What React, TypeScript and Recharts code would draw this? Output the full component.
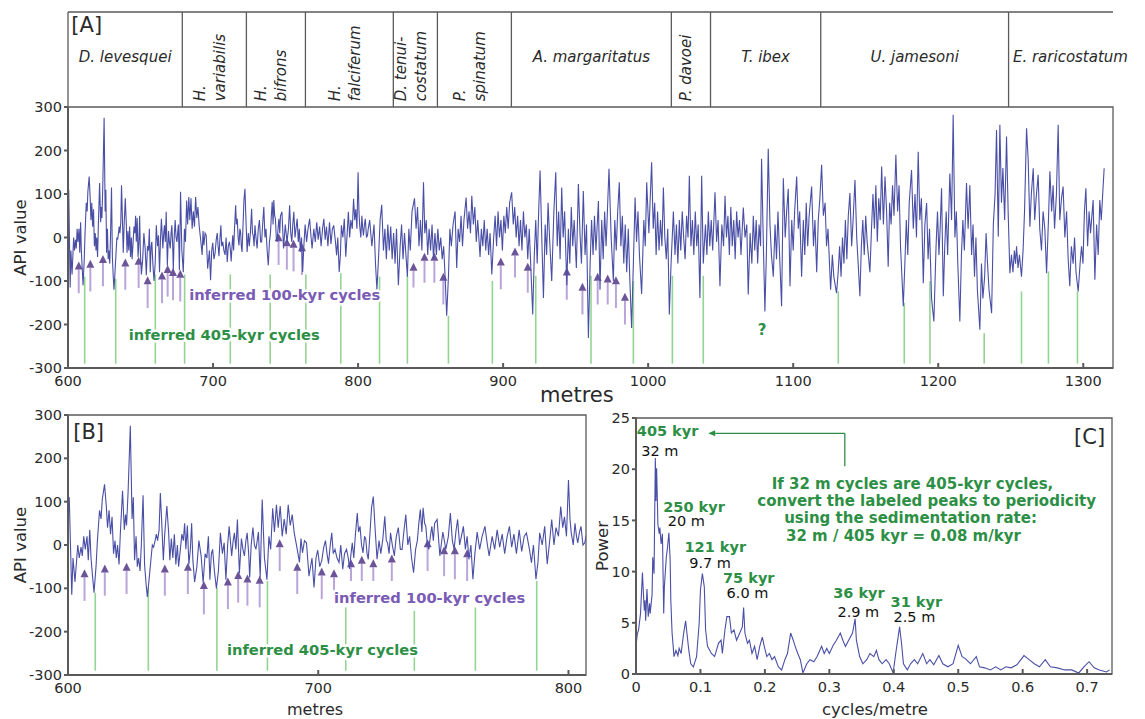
import React from 'react';
import {
  ComposedChart,
  Line,
  XAxis,
  YAxis,
  ReferenceLine,
  ReferenceArea,
  ReferenceDot
} from 'recharts';

const FONT = '"DejaVu Sans", sans-serif';
const SERIES = '#4a4fa6';
const GREEN_LINE = '#93d493';
const GREEN_TEXT = '#2d8f45';
const PURPLE_TEXT = '#7a5bb5';
const ARROW_SHAFT = '#baa5da';
const ARROW_HEAD = '#6c5499';
const AXIS = '#5a5a5a';
const INK = '#2a2a2a';

// axis ranges
const A_MAX = 1320.5;
const B_MAX = 807;
const C_MAX = 0.7386;

const metreTicksA = [600, 700, 800, 900, 1000, 1100, 1200, 1300];
const metreTicksB = [600, 700, 800];
const apiTicks = [-300, -200, -100, 0, 100, 200, 300];
const freqTicks = [0, 0.1, 0.2, 0.3, 0.4, 0.5, 0.6, 0.7];
const powerTicks = [0, 5, 10, 15, 20, 25];

// biozones (header of panel A)
const zoneNames = [
  ['D. levesquei'],
  ['H.', 'variabilis'],
  ['H.', 'bifrons'],
  ['H.', 'falciferum'],
  ['D. tenui-', 'costatum'],
  ['P.', 'spinatum'],
  ['A. margaritatus'],
  ['P. davoei'],
  ['T. ibex'],
  ['U. jamesoni'],
  ['E. raricostatum']
];
const zoneBounds = [600, 678.8, 723, 763.7, 824.3, 854.7, 905.7, 1016, 1043, 1119, 1248.5, A_MAX];
const zoneRotated = [false, true, true, true, true, true, false, true, false, false, false];

// API log, metres vs value. 600-807 m, the rest from panel A
const earlyTrace: [number, number][] = [
  [600, 55], [600.5, 110], [601.5, -115], [602, -30], [602.8, -85], [603.9, 0], [604.5, -30], [605.2, -5],
  [605.7, -25], [606.3, 20], [606.9, -10], [607.6, 20], [608.1, -35], [608.7, 35], [609.2, -30], [609.7, -65],
  [610.4, -110], [611.2, -50], [611.7, 5], [612.6, 80], [613.2, 60], [613.7, 105], [614.6, 140], [615.3, 90],
  [615.8, 40], [616.4, 80], [617, 25], [617.6, 65], [618.2, -20], [618.8, 10], [619.3, -30], [619.8, 0],
  [620.4, -45], [620.9, 25], [621.8, 125], [622.5, 35], [623, 70], [623.4, 45], [624, 120], [624.9, 275],
  [625.6, 60], [626.1, 110], [626.6, -35], [627.2, 20], [627.7, -50], [628.2, -30], [628.8, -60], [629.3, 0],
  [630, 115], [630.6, -45], [631.2, -90], [631.7, -120], [632.4, -80], [633.2, -30], [633.7, 0], [634.2, -5],
  [634.8, 10], [635.3, 25], [635.8, 10], [636.4, 35], [636.9, 120], [637.4, 60], [638.1, -35], [638.6, 20],
  [639.5, 90], [640.2, 30], [640.7, -35], [641.3, 15], [641.9, -30], [642.5, 25], [643.1, -45], [643.7, 0],
  [644.2, -50], [644.9, -10], [645.5, 25], [646.1, 10], [646.6, 50], [647.1, -10], [647.7, 45], [648.3, -45],
  [648.9, -10], [649.4, 50], [649.9, -35], [650.6, -85], [651.5, -50], [652.3, 10], [653.2, -25], [654, -87],
  [654.8, -20], [655.5, -30], [656.1, 20], [656.7, -80], [657.3, -20], [657.8, -10], [658.5, -60], [659.3, -100],
  [660.1, -60], [660.9, 28], [661.7, -20], [662.4, 5], [663.1, -80], [663.8, 0], [664.4, 43], [665.4, -25],
  [666, 10], [666.5, 28], [667.1, -10], [667.7, 59], [668.5, -65], [669.3, 15], [669.9, -10], [670.5, -25],
  [671.1, 10], [671.6, 28], [672.2, -20], [672.6, -75], [673.2, 0], [673.9, 40], [674.5, 0], [675.1, -10],
  [676.1, 30], [676.8, -75], [677.6, 105], [678.5, -30], [679.5, -80], [680.3, 20], [681, -10], [681.8, 85],
  [682.5, 30], [683.3, 93], [684, 40], [684.8, 90], [685.6, 20], [686.4, 60], [687.2, 25], [688, 93],
  [688.8, 45], [689.6, 70], [690.4, 28], [691.4, -3], [692.5, -40], [693.1, 15], [693.7, -18], [694.5, 10],
  [695.3, 5], [696.3, -72], [697.5, -30], [698.3, -98], [699.1, -30], [699.8, -12], [700.6, -50], [701.4, -36],
  [702.2, -5], [702.9, 10], [703.5, -20], [704.1, -43], [704.8, 0], [705.4, 28], [706, -20], [706.7, -10],
  [707.5, -30], [708.3, -40], [709, 0], [709.8, -56], [710.5, -20], [711.3, -10], [712, -30], [712.5, -55],
  [713.1, -20], [713.6, 5], [714.2, -30], [714.8, 20], [715.6, 74], [716.1, 30], [716.7, 43], [717.3, 0],
  [717.9, -18], [718.5, 20], [719, 13], [719.5, -20], [720, -33], [720.7, 30], [721.3, 86], [722, 112],
  [722.7, 40], [723.5, -33], [724.3, 10], [725, -20], [725.8, 13], [726.6, 66], [727.2, 10], [727.7, 5],
  [728.3, -20], [728.9, 28], [729.6, 0], [730.4, -25], [731.2, 20], [732, 40], [732.8, -10], [733.5, -10],
  [734.2, 30], [735, 70], [735.8, 0], [736.5, 20], [737.3, -30], [738.1, -64], [738.9, -10], [739.6, 10],
  [740.2, 50], [740.8, 82], [741.4, 30], [741.9, 86], [742.5, 50], [743, 43], [743.6, 0], [744.2, -10],
  [744.8, 20], [745.4, 43], [746, 10], [746.5, 50], [747.5, 59], [748.6, -25], [749.8, 30], [751, -10],
  [752, 20], [752.8, 74], [753.6, 10], [754.3, -10], [755, 30], [755.7, 59], [756.5, 0], [757.2, 20],
  [758, 43], [758.8, -10], [759.5, 20], [760.2, -33], [761, 0], [761.8, -79], [762.6, -20], [763.5, 30],
  [764.5, -10], [765.5, 20], [766.6, 43], [767.6, 0], [768.3, -25], [769.5, 20], [770.5, -10], [771.5, 35],
  [772.5, -5], [773.5, 25], [774.5, -20], [775.5, 20], [776.4, 43], [777.3, -5], [778.2, 25], [779.2, -20],
  [780.3, 35], [781.3, -15], [782.3, 20], [783.2, 28], [784.4, -10], [785.2, -41], [786, 0], [787, -79],
  [787.8, -40], [788.5, 28], [789.5, 0], [790.5, 43], [791.5, -44], [792.5, 10], [793.3, 59], [794.2, 0],
  [795, 40], [796, 20], [796.9, 89], [797.7, 40], [798.4, 65], [799.2, 20], [800, 150], [800.6, 60],
  [801.1, 28], [801.9, 0], [802.6, 50], [803.2, 20], [803.7, 5], [804.4, 30], [805, 43], [805.8, 0],
  [806.5, 5], [807, 20]
];

const lateTrace: [number, number][] = [
  [808, 40], [809.5, -20], [811, 30], [812, -60], [813, -120], [814.2, -40], [815.2, 40], [816.3, 75],
  [817.5, -30], [818.5, 20], [819.5, -50], [820.5, 30], [821.5, -30], [822.5, 25], [823.5, -50], [824.5, 10],
  [825.5, -60], [826.5, 20], [827.8, -110], [829, -20], [830, 30], [831, -50], [832, 10], [833, -40],
  [834, -90], [835, 20], [836, -30], [837.2, 60], [838.9, 90], [840, 20], [841, 70], [842, -20],
  [843, 40], [844, -30], [845.1, 127], [846, 10], [847, 40], [848, -40], [849, 20], [850, -30],
  [851, 30], [852, -50], [853, 10], [854, -40], [855, 20], [856, -30], [857, 0], [858, -50],
  [859, -20], [860, -90], [861.1, -180], [862.3, -90], [863.3, 20], [864.3, -20], [865.5, 30], [866.9, 60],
  [868, -70], [869, 20], [870, -10], [871, 50], [872, -20], [873, 40], [874.5, 92], [875.5, 20],
  [876.5, 60], [877.5, 10], [878.4, 96], [879.5, 30], [880.5, 70], [881.5, -10], [882.5, 40], [884.1, -45],
  [885, 20], [886, -20], [887, 40], [888, -30], [889, 20], [890, -40], [891, 10], [892.2, -85],
  [893.5, 0], [894.5, 50], [895.5, -20], [896.5, 60], [897.5, 0], [898.5, 40], [899.5, -30], [900.5, 50],
  [901.5, 10], [902.5, 70], [903.5, 20], [904.5, 80], [905.9, 104], [907, 30], [908, 70], [909, 0],
  [910, 50], [911, -20], [912, 40], [913, -30], [914, 60], [915, 0], [916, 30], [917, -50],
  [918, 20], [919, -60], [920.4, -177], [921.5, -40], [922.5, 40], [923.5, -60], [924.5, 60], [925.5, 154],
  [926.5, 20], [927.8, -139], [929, 30], [930, -40], [931, 80], [932, 0], [933.5, -100], [935, 60],
  [936.3, 150], [937.3, -20], [938.3, 60], [939.3, -50], [940.4, 115], [941.4, 0], [942.4, 60], [943.9, -110],
  [945, 20], [946, -60], [947, 70], [948, -20], [949, 40], [950.5, -70], [951.9, 123], [953, 10],
  [954, -60], [955.3, 107], [956.5, -40], [957.5, 30], [958.8, -231], [960, -60], [961, 40], [962, -40],
  [963, 50], [964, -30], [965.7, 84], [966.8, -120], [968, 40], [969, -50], [970, 60], [971, -20],
  [973, 158], [974.5, 0], [976, -100], [977, 40], [978, -30], [979, 60], [980.1, 127], [981.2, -20],
  [982.2, 50], [983.2, -60], [984.2, 30], [985.2, -80], [986.3, 20], [987.3, -90], [988.6, -208], [989.8, -60],
  [991, 92], [992, -10], [993, 60], [994, -40], [995.5, -130], [997, 40], [998, -20], [999, 127],
  [1000.5, 10], [1002.4, 173], [1003.5, 20], [1004.5, 80], [1005.5, -40], [1006.5, 60], [1007.5, -30], [1008.5, 40],
  [1009.5, -20], [1010.5, 115], [1011.5, 0], [1012.5, -50], [1013.5, 20], [1014.6, -177], [1015.8, -60], [1017.4, 60],
  [1018.5, -40], [1019.5, 30], [1020.5, -60], [1021.5, 40], [1022.5, -30], [1023.5, 60], [1024.5, 0], [1025.5, -50],
  [1026.5, 50], [1027.5, 0], [1028.4, 142], [1029.5, -20], [1030.5, 40], [1031.5, -40], [1032.5, 60], [1033.5, -20],
  [1034.5, 30], [1035.7, -139], [1036.9, 142], [1038, -60], [1039.5, 30], [1040.5, -40], [1041.5, 60], [1042.5, -20],
  [1043.5, 40], [1044.5, -30], [1046.1, 104], [1047.2, -10], [1048.2, 40], [1049.5, -112], [1050.8, 30], [1052, -20],
  [1053, 96], [1054, 0], [1055, 50], [1056, -40], [1057, 70], [1058, -20], [1059, 40], [1060, -50],
  [1061, 60], [1062, 0], [1063, 40], [1064, -40], [1065.6, 69], [1066.8, 0], [1068, 30], [1069, -131],
  [1070.3, 10], [1071.5, -60], [1072.5, 50], [1073.5, -30], [1074.5, 40], [1075.5, -60], [1076.5, 30], [1077.5, -20],
  [1078.2, 181], [1079.2, 20], [1080.5, -170], [1081.5, -40], [1082.8, 204], [1084, 30], [1085, -40], [1086.3, -90],
  [1087.5, 30], [1088.5, -50], [1089.5, 60], [1090.5, -30], [1092, -158], [1093.2, 136], [1094.5, 0], [1095.5, 60],
  [1096.6, 112], [1097.8, -112], [1099, 40], [1100, -30], [1101, 60], [1102.4, 140], [1103.5, 20], [1104.5, 60],
  [1105.8, -90], [1107, 40], [1108, -40], [1109, 80], [1110, -20], [1111, 50], [1112.7, 117], [1114, -20],
  [1115, 40], [1116.2, -80], [1117.3, 40], [1118.4, 90], [1119.6, 167], [1120.8, 50], [1122, 80], [1123, -20],
  [1124, 20], [1125.8, -120], [1127, -40], [1128, -90], [1129.9, -128], [1131, -80], [1132, -20], [1133, -90],
  [1134, 0], [1135, -60], [1136, 40], [1137, -50], [1138, 50], [1139.1, 102], [1140.3, -20], [1141.3, 40],
  [1142.6, 132], [1143.8, 0], [1144.8, -60], [1146, -135], [1147, -20], [1148, 40], [1149, -40], [1150, 50],
  [1151, -10], [1152.9, -80], [1154, 20], [1155, 100], [1156, 20], [1157, 120], [1158, -10], [1159, 90],
  [1160, 40], [1161, 163], [1162.2, 30], [1163.3, 140], [1164.4, 60], [1165.5, -67], [1166.5, 80], [1167.5, 30],
  [1168.5, 120], [1169.5, 50], [1170.8, 190], [1172, 60], [1173, 120], [1174, -20], [1175.9, -158], [1177, -60],
  [1178, 40], [1179, -40], [1180, 80], [1181.6, 155], [1182.8, 20], [1184, 100], [1185, 0], [1186.2, 197],
  [1187.3, 40], [1188.4, 90], [1189.7, -105], [1190.8, 30], [1192, 79], [1193, -50], [1194, 20], [1195.4, -140],
  [1197, -193], [1198.5, -20], [1199.5, 60], [1200.5, -40], [1201.3, 20], [1202.3, 113], [1203.5, -135], [1204.5, -20],
  [1205.5, 60], [1206.5, -40], [1208, 147], [1209.2, 40], [1210.3, 282], [1211.5, 0], [1212.5, 60], [1213.5, -60],
  [1214.9, -193], [1216, -40], [1217, 40], [1218, -30], [1219.5, 125], [1220.6, 20], [1221.8, 120], [1223, -40],
  [1224, 30], [1225, -90], [1226, 0], [1227, -120], [1228.7, -212], [1229.8, -60], [1230.8, -140], [1232, -90],
  [1233, 10], [1234, -60], [1235, -120], [1236.8, -174], [1238, 30], [1239.2, 100], [1240.2, 247], [1241.4, 2],
  [1242.5, 259], [1243.6, 80], [1244.6, 160], [1245.8, 40], [1247.1, 232], [1248.2, 60], [1249.4, -82], [1250.5, -40],
  [1251.5, -80], [1252.5, -30], [1253.3, -60], [1254, -20], [1255, -70], [1256, -40], [1257.4, -90], [1258.5, -30],
  [1259.5, 60], [1260.9, 251], [1262, 180], [1263.2, 25], [1264.2, 100], [1265.5, 159], [1266.5, 40], [1267.5, 90],
  [1268.9, 144], [1270, 20], [1271.2, -30], [1272.3, 60], [1273.5, 20], [1274.7, -82], [1276, 40], [1277, 152],
  [1278.2, 60], [1279.2, 120], [1280.2, 20], [1281.5, 100], [1282.7, 259], [1283.8, 40], [1285, 90], [1286.1, 117],
  [1287.3, 0], [1288.5, 60], [1289.6, -50], [1290.7, -112], [1291.8, -20], [1293, -60], [1294, 0], [1295, -80],
  [1296.5, -124], [1297.8, -60], [1298.8, -20], [1299.8, -60], [1300.8, 60], [1301.8, 113], [1303, -20], [1304, 60],
  [1305, 10], [1306.8, 86], [1308, -97], [1309.2, 30], [1310.3, -40], [1311.4, 86], [1312.4, 40], [1313.4, 100],
  [1314.4, 159]
];

// inferred 405-kyr cycles: [metres, top of line]
const cycles405A: [number, number][] = [
  [611.5, -90], [632.9, -95], [660.2, -85], [680.4, -85], [711.9, -85], [739.4, -85], [764, -85], [788.1, -82],
  [814.8, -90], [834, -88], [862.3, -180], [892.6, -100], [922.5, -88], [960.6, -88], [989.8, -100], [1016.7, -88],
  [1038, -88], [1131.1, -124], [1176.6, -150], [1194.3, -100], [1231.7, -220], [1257.4, -124], [1276, -78], [1296, -124]
];
const cycles405B: [number, number][] = [
  [610.9, -110], [632.1, -98], [659.5, -98], [679.7, -83], [711, -144], [738.4, -152], [762.8, -144], [787.3, -83]
];
// inferred 100-kyr cycles: [metres, arrow base, arrow tip]
const cycles100A: [number, number, number][] = [
  [607.4, -128, -55], [615.4, -124, -51], [624.1, -112, -40], [639.5, -120, -48], [648.7, -116, -44],
  [654.9, -162, -89], [664.8, -151, -78], [668.7, -136, -63], [672.4, -144, -70], [677.4, -147, -74],
  [745.2, -63, 10], [750.9, -74, -2], [755.5, -78, -5], [761.3, -86, -13], [838.2, -115, -58],
  [845.8, -104, -35], [852.6, -104, -35], [858.8, -154, -81], [898.4, -119, -46], [908.2, -92, -23],
  [917, -127, -58], [943.9, -143, -69], [954.7, -177, -104], [965.2, -154, -81], [972.1, -154, -85],
  [977.8, -162, -89], [984, -200, -127]
];
const cycles100B: [number, number, number][] = [
  [606.6, -129, -56], [614.7, -117, -45], [623.4, -113, -41], [638.7, -117, -45], [647.9, -113, -41],
  [654.3, -160, -83], [663.9, -148, -75], [668, -133, -60], [671.7, -140, -68], [676.6, -144, -71],
  [684.6, -60, 13], [691.6, -113, -41], [701.4, -125, -52], [706.3, -129, -56], [713.1, -83, -33],
  [717.4, -83, -25], [722, -83, -33], [729.4, -83, -22], [743.7, -60, 13], [750.3, -72, -3],
  [754.6, -79, -3], [759.5, -83, -10]
];
const CYCLE_FLOOR = -290;

// power spectrum: [cycles/metre, power]
const spectrum: [number, number][] = [
  [0, 2.7], [0.002, 3.9], [0.004, 4.3], [0.007, 5.9], [0.01, 9.9], [0.012, 7.2], [0.013, 6.2], [0.014, 7.2],
  [0.015, 5.2], [0.017, 8.3], [0.019, 5.6], [0.021, 6.9], [0.022, 5.9], [0.025, 7.8], [0.026, 11.4], [0.028, 9.8],
  [0.03, 21.1], [0.031, 16.9], [0.032, 20.1], [0.034, 14.6], [0.036, 13.7], [0.037, 14.3], [0.039, 12.7], [0.041, 13.7],
  [0.043, 5.9], [0.044, 8.5], [0.047, 11.4], [0.049, 12.4], [0.051, 13.8], [0.053, 11.1], [0.054, 7.2], [0.056, 4],
  [0.059, 1.7], [0.062, 2.3], [0.065, 1.8], [0.067, 2.5], [0.07, 2], [0.074, 4], [0.077, 5.2], [0.079, 4],
  [0.082, 2.3], [0.085, 1], [0.089, 0.7], [0.094, 1.7], [0.098, 4.9], [0.1, 8.2], [0.103, 9.8], [0.106, 8.5],
  [0.108, 4.3], [0.111, 2.7], [0.117, 2], [0.122, 1.7], [0.128, 3], [0.132, 3.3], [0.134, 2], [0.138, 4.3],
  [0.141, 5.6], [0.145, 5.6], [0.148, 4], [0.152, 4.3], [0.156, 3.3], [0.161, 4], [0.165, 4.6], [0.167, 6.5],
  [0.169, 4], [0.173, 3], [0.176, 3.3], [0.18, 2], [0.184, 2.7], [0.188, 1.4], [0.192, 2.7], [0.196, 3.6],
  [0.199, 2.7], [0.203, 1.7], [0.207, 2], [0.211, 1.4], [0.215, 1.7], [0.221, 0.7], [0.226, 0.4], [0.231, 1.4],
  [0.235, 2], [0.24, 4], [0.244, 3.3], [0.247, 2.7], [0.251, 2], [0.255, 1.4], [0.259, 0.1], [0.265, 1],
  [0.27, 1.4], [0.276, 1.2], [0.281, 1.7], [0.288, 2.7], [0.292, 2], [0.296, 2.5], [0.3, 2], [0.306, 2.8],
  [0.311, 3.3], [0.317, 4], [0.321, 3.3], [0.325, 2.7], [0.33, 3.3], [0.336, 4], [0.34, 5.4], [0.342, 3.3],
  [0.347, 1.7], [0.352, 1], [0.358, 1.4], [0.363, 2], [0.369, 1.7], [0.373, 2.3], [0.377, 1.4], [0.382, 1],
  [0.388, 1.4], [0.393, 1], [0.399, 0.1], [0.403, 2], [0.406, 3.3], [0.409, 4.6], [0.412, 3], [0.415, 1],
  [0.421, 0.4], [0.426, 1], [0.432, 1.4], [0.437, 1], [0.445, 2], [0.451, 1], [0.456, 1.4], [0.462, 0.9],
  [0.47, 1.8], [0.476, 1], [0.484, 0.7], [0.492, 1], [0.5, 2.8], [0.506, 1.7], [0.511, 1.5], [0.519, 1],
  [0.528, 1.7], [0.533, 0.7], [0.541, 0.6], [0.55, 0.4], [0.558, 0.7], [0.566, 0.4], [0.574, 0.7], [0.582, 0.6],
  [0.591, 0.9], [0.602, 1.8], [0.61, 1.4], [0.618, 1], [0.626, 0.7], [0.635, 1.4], [0.643, 0.7], [0.654, 0.6],
  [0.665, 0.4], [0.676, 0.4], [0.687, 0.1], [0.695, 0.7], [0.703, 1.2], [0.711, 0.6], [0.719, 0.4], [0.73, 0.2],
  [0.735, 0.4]
];

// peak labels in panel C
const peakKyr = ['405 kyr', '250 kyr', '121 kyr', '75 kyr', '36 kyr', '31 kyr'];
const peakMetres = ['32 m', '20 m', '9.7 m', '6.0 m', '2.9 m', '2.5 m'];
const kyrLabelAt: [number, number][] = [[0.049, 23.7], [0.09, 16.3], [0.123, 12.4], [0.175, 9.4], [0.346, 7.9], [0.435, 7.0]];
const metreLabelAt: [number, number][] = [[0.037, 21.8], [0.078, 14.9], [0.115, 10.8], [0.173, 7.9], [0.345, 6.06], [0.432, 5.6]];
const noteLines = [
  'If 32 m cycles are 405-kyr cycles,',
  'convert the labeled peaks to periodicity',
  'using the sedimentation rate:',
  '32 m / 405 kyr = 0.08 m/kyr'
];
const noteLineAt: [number, number][] = [[0.429, 18.6], [0.451, 16.9], [0.426, 15.2], [0.415, 13.5]];

const apiData = [...earlyTrace, ...lateTrace].map(([m, api]) => ({ m, api }));
const spectrumData = spectrum.map(([f, power]) => ({ f, power }));

const tickStyle = { fill: INK, fontSize: 14.5, fontFamily: FONT };

const arrowShape = (p: any) => {
  const { x1, y1, x2, y2 } = p;
  const dx = x2 - x1;
  const dy = y2 - y1;
  const len = Math.hypot(dx, dy) || 1;
  const ux = dx / len;
  const uy = dy / len;
  const size = 8;
  const bx = x2 - ux * size;
  const by = y2 - uy * size;
  const px = -uy * size * 0.5;
  const py = ux * size * 0.5;
  return (
    <g>
      <line x1={x1} y1={y1} x2={bx} y2={by} stroke={p.stroke} strokeWidth={2} />
      <polygon points={`${x2},${y2} ${bx + px},${by + py} ${bx - px},${by - py}`} fill={p.fill} />
    </g>
  );
};

interface NoteProps {
  text: string;
  color: string;
  size: number;
  bold?: boolean;
  italic?: boolean;
  anchor?: 'start' | 'middle' | 'end';
  halo?: boolean;
}

const noteShape = (n: NoteProps) => (p: any) => (
  <text
    x={p.cx}
    y={p.cy}
    fill={n.color}
    fontSize={n.size}
    fontWeight={n.bold ? 700 : 400}
    fontStyle={n.italic ? 'italic' : 'normal'}
    fontFamily={FONT}
    textAnchor={n.anchor ?? 'middle'}
    dominantBaseline="central"
    stroke={n.halo ? '#ffffff' : 'none'}
    strokeWidth={n.halo ? 5 : 0}
    strokeLinejoin="round"
    paintOrder="stroke"
  >
    {n.text}
  </text>
);

const rotatedLabelShape = (lines: string[]) => (p: any) => {
  const gap = 20;
  const first = p.cx - 5 - (lines.length - 1) * gap / 2 + 5.5;
  return (
    <g>
      {lines.map((t, i) => {
        const x = first + i * gap;
        return (
          <text
            key={t}
            x={x}
            y={p.cy}
            transform={`rotate(-90 ${x} ${p.cy})`}
            fontSize={15}
            fontStyle="italic"
            fontFamily={FONT}
            fill={INK}
            textAnchor="start"
          >
            {t}
          </text>
        );
      })}
    </g>
  );
};

const yTitle = (text: string, dx: number) => (props: any) => {
  const vb = props.viewBox || { x: 0, y: 0, width: 0, height: 0 };
  const x = vb.x + dx;
  const y = vb.y + vb.height / 2;
  return (
    <text
      x={x}
      y={y}
      transform={`rotate(-90 ${x} ${y})`}
      textAnchor="middle"
      dominantBaseline="central"
      fontSize={16.5}
      fontFamily={FONT}
      fill={INK}
    >
      {text}
    </text>
  );
};

const xTitle = (text: string, share: number, dy: number, size: number) => (props: any) => {
  const vb = props.viewBox || { x: 0, y: 0, width: 0, height: 0 };
  return (
    <text
      x={vb.x + vb.width * share}
      y={vb.y + dy}
      textAnchor="middle"
      fontSize={size}
      fontFamily={FONT}
      fill={INK}
    >
      {text}
    </text>
  );
};

const Header: React.FC = () => (
  <ComposedChart width={1145} height={112} margin={{ top: 12, right: 32, bottom: 5, left: 68 }} data={[]}>
    <XAxis type="number" dataKey="m" domain={[600, A_MAX]} allowDataOverflow hide />
    <YAxis type="number" domain={[0, 1]} allowDataOverflow hide />
    <ReferenceLine segment={[{ x: 600, y: 1 }, { x: A_MAX, y: 1 }]} stroke={AXIS} strokeWidth={1.5} />
    {zoneBounds.slice(0, -1).map((b) => (
      <ReferenceLine key={`b${b}`} segment={[{ x: b, y: 0 }, { x: b, y: 1 }]} stroke={AXIS} strokeWidth={1.3} />
    ))}
    {zoneNames.map((lines, i) => {
      const last = i === zoneNames.length - 1;
      const x = last ? zoneBounds[i] + 3 : (zoneBounds[i] + zoneBounds[i + 1]) / 2;
      return (
        <ReferenceDot
          key={`z${i}`}
          x={x}
          y={zoneRotated[i] ? 0.06 : 0.53}
          r={0}
          ifOverflow="visible"
          shape={
            zoneRotated[i]
              ? rotatedLabelShape(lines)
              : noteShape({ text: lines[0], color: INK, size: 15, italic: true, anchor: last ? 'start' : 'middle' })
          }
        />
      );
    })}
    <ReferenceDot x={602.3} y={0.86} r={0} ifOverflow="visible" shape={noteShape({ text: '[A]', color: INK, size: 21, anchor: 'start' })} />
  </ComposedChart>
);

const PanelA: React.FC = () => (
  <ComposedChart width={1145} height={410} data={apiData} margin={{ top: 107, right: 32, bottom: 2, left: 8 }}>
    <XAxis
      type="number"
      dataKey="m"
      domain={[600, A_MAX]}
      allowDataOverflow
      ticks={metreTicksA}
      height={40}
      tickSize={-5}
      tickMargin={13}
      stroke={AXIS}
      strokeWidth={2}
      tick={tickStyle}
      label={{ content: xTitle('metres', 0.487, 34, 21) }}
    />
    <YAxis
      type="number"
      domain={[-300, 300]}
      allowDataOverflow
      ticks={apiTicks}
      width={60}
      tickSize={4}
      tickMargin={2}
      stroke={AXIS}
      strokeWidth={2}
      tick={tickStyle}
      label={{ content: yTitle('API value', 12) }}
    />
    <ReferenceArea x1={600} x2={A_MAX} y1={-300} y2={300} fill="none" stroke={AXIS} strokeWidth={1.3} />
    {cycles405A.map(([m, top]) => (
      <ReferenceLine key={`g${m}`} segment={[{ x: m, y: top }, { x: m, y: CYCLE_FLOOR }]} stroke={GREEN_LINE} strokeWidth={1.6} />
    ))}
    {cycles100A.map(([m, base, tip]) => (
      <ReferenceLine
        key={`p${m}`}
        segment={[{ x: m, y: base }, { x: m, y: tip }]}
        stroke={ARROW_SHAFT}
        fill={ARROW_HEAD}
        shape={arrowShape}
      />
    ))}
    <Line type="linear" dataKey="api" stroke={SERIES} strokeWidth={1.1} dot={false} isAnimationActive={false} />
    <ReferenceDot x={749.4} y={-132} r={0} shape={noteShape({ text: 'inferred 100-kyr cycles', color: PURPLE_TEXT, size: 14.7, bold: true, halo: true })} />
    <ReferenceDot x={707.7} y={-224} r={0} shape={noteShape({ text: 'inferred 405-kyr cycles', color: GREEN_TEXT, size: 14.7, bold: true, halo: true })} />
    <ReferenceDot x={1078.5} y={-213} r={0} shape={noteShape({ text: '?', color: GREEN_TEXT, size: 15, bold: true })} />
  </ComposedChart>
);

const PanelB: React.FC = () => (
  <ComposedChart width={600} height={319} data={apiData} margin={{ top: 15, right: 14, bottom: 0, left: 8 }}>
    <XAxis
      type="number"
      dataKey="m"
      domain={[600, B_MAX]}
      allowDataOverflow
      ticks={metreTicksB}
      height={44}
      tickSize={-5}
      tickMargin={13}
      stroke={AXIS}
      strokeWidth={2}
      tick={tickStyle}
      label={{ content: xTitle('metres', 0.477, 40, 16) }}
    />
    <YAxis
      type="number"
      domain={[-300, 300]}
      allowDataOverflow
      ticks={apiTicks}
      width={60}
      tickSize={4}
      tickMargin={2}
      stroke={AXIS}
      strokeWidth={2}
      tick={tickStyle}
      label={{ content: yTitle('API value', 12) }}
    />
    <ReferenceArea x1={600} x2={B_MAX} y1={-300} y2={300} fill="none" stroke={AXIS} strokeWidth={1.3} />
    {cycles405B.map(([m, top]) => (
      <ReferenceLine key={`g${m}`} segment={[{ x: m, y: top }, { x: m, y: CYCLE_FLOOR }]} stroke={GREEN_LINE} strokeWidth={1.6} />
    ))}
    {cycles100B.map(([m, base, tip]) => (
      <ReferenceLine
        key={`p${m}`}
        segment={[{ x: m, y: base }, { x: m, y: tip }]}
        stroke={ARROW_SHAFT}
        fill={ARROW_HEAD}
        shape={arrowShape}
      />
    ))}
    <Line type="linear" dataKey="api" stroke={SERIES} strokeWidth={1.1} dot={false} isAnimationActive={false} />
    <ReferenceDot x={602.1} y={261} r={0} shape={noteShape({ text: '[B]', color: INK, size: 21, anchor: 'start' })} />
    <ReferenceDot x={744.5} y={-121} r={0} shape={noteShape({ text: 'inferred 100-kyr cycles', color: PURPLE_TEXT, size: 14.7, bold: true, halo: true })} />
    <ReferenceDot x={701.7} y={-241} r={0} shape={noteShape({ text: 'inferred 405-kyr cycles', color: GREEN_TEXT, size: 14.7, bold: true, halo: true })} />
  </ComposedChart>
);

const PanelC: React.FC = () => (
  <ComposedChart width={555} height={319} data={spectrumData} margin={{ top: 18, right: 33, bottom: 0, left: 0 }}>
    <XAxis
      type="number"
      dataKey="f"
      domain={[0, C_MAX]}
      allowDataOverflow
      ticks={freqTicks}
      tickFormatter={(v: number) => (v === 0 ? '0' : v.toFixed(1))}
      height={45}
      tickSize={-5}
      tickMargin={13}
      stroke={AXIS}
      strokeWidth={2}
      tick={tickStyle}
      label={{ content: xTitle('cycles/metre', 0.502, 41, 16.5) }}
    />
    <YAxis
      type="number"
      domain={[0, 25]}
      allowDataOverflow
      ticks={powerTicks}
      width={46}
      tickSize={4}
      tickMargin={2}
      stroke={AXIS}
      strokeWidth={2}
      tick={tickStyle}
      label={{ content: yTitle('Power', 12) }}
    />
    <ReferenceArea x1={0} x2={C_MAX} y1={0} y2={25} fill="none" stroke={AXIS} strokeWidth={1.3} />
    <Line type="linear" dataKey="power" stroke={SERIES} strokeWidth={1.1} dot={false} isAnimationActive={false} />
    <ReferenceLine segment={[{ x: 0.324, y: 23.5 }, { x: 0.324, y: 20.3 }]} stroke={GREEN_TEXT} strokeWidth={1.3} />
    <ReferenceLine
      segment={[{ x: 0.324, y: 23.5 }, { x: 0.112, y: 23.5 }]}
      stroke={GREEN_TEXT}
      fill={GREEN_TEXT}
      shape={(p: any) => {
        const size = 7;
        return (
          <g>
            <line x1={p.x1} y1={p.y1} x2={p.x2 + size} y2={p.y2} stroke={p.stroke} strokeWidth={1.3} />
            <polygon points={`${p.x2},${p.y2} ${p.x2 + size},${p.y2 - 3} ${p.x2 + size},${p.y2 + 3}`} fill={p.fill} />
          </g>
        );
      }}
    />
    {peakKyr.map((t, i) => (
      <ReferenceDot key={`k${t}`} x={kyrLabelAt[i][0]} y={kyrLabelAt[i][1]} r={0} shape={noteShape({ text: t, color: GREEN_TEXT, size: 14.5, bold: true })} />
    ))}
    {peakMetres.map((t, i) => (
      <ReferenceDot key={`m${t}`} x={metreLabelAt[i][0]} y={metreLabelAt[i][1]} r={0} shape={noteShape({ text: t, color: '#111', size: 14.5 })} />
    ))}
    {noteLines.map((t, i) => (
      <ReferenceDot key={`n${i}`} x={noteLineAt[i][0]} y={noteLineAt[i][1]} r={0} shape={noteShape({ text: t, color: GREEN_TEXT, size: 15, bold: true })} />
    ))}
    <ReferenceDot x={0.728} y={23.1} r={0} shape={noteShape({ text: '[C]', color: INK, size: 21, anchor: 'end' })} />
  </ComposedChart>
);

const App: React.FC = () => (
  <div style={{ position: 'absolute', left: 0, top: 0, width: 1145, height: 719, background: '#fff', overflow: 'hidden' }}>
    <div style={{ position: 'absolute', left: 0, top: 0 }}>
      <Header />
    </div>
    <div style={{ position: 'absolute', left: 0, top: 0 }}>
      <PanelA />
    </div>
    <div style={{ position: 'absolute', left: 0, top: 400 }}>
      <PanelB />
    </div>
    <div style={{ position: 'absolute', left: 590, top: 400 }}>
      <PanelC />
    </div>
  </div>
);

export default App;
